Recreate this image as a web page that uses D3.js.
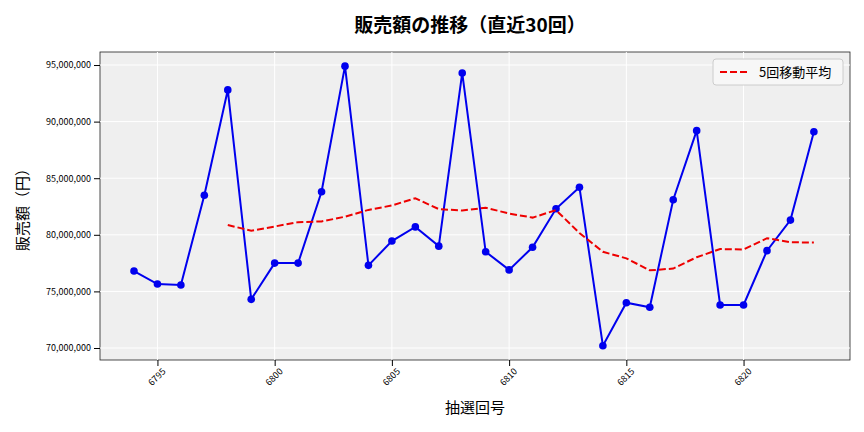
<!DOCTYPE html>
<html><head><meta charset="utf-8">
<script src="https://cdn.jsdelivr.net/npm/d3@7"></script>
<style>body{margin:0;background:#fff}text{font-family:"Noto Sans CJK JP","DejaVu Sans",sans-serif}</style>
</head><body><svg id="c" width="864" height="432"></svg>
<script>
// draw numbers and sales (yen)
var draws = d3.range(6794, 6824)
var sales = [76.8, 75.65, 75.57, 83.5, 92.8, 74.3, 77.5, 77.5, 83.8, 94.9,
  77.3, 79.45, 80.7, 79.0, 94.3, 78.5, 76.9, 78.9, 82.3, 84.2,
  70.2, 74.0, 73.6, 83.1, 89.2, 73.8, 73.8, 78.6, 81.3, 89.1].map(d => d * 1e6)
var xTicks = [6795, 6800, 6805, 6810, 6815, 6820]
var yTicks = [70e6, 75e6, 80e6, 85e6, 90e6, 95e6]

// 5-draw moving average
var avg = sales.map((v, i) => i < 4 ? null : d3.mean(sales.slice(i - 4, i + 1)))

var svg = d3.select('#c')
var L = 100, R = 850, T = 52, B = 360
var x = d3.scaleLinear().domain([6792.55, 6824.54]).range([L, R])
var y = d3.scaleLinear().domain([68.94e6, 96.15e6]).range([B, T])

svg.append('rect').attr('x', L).attr('y', T).attr('width', R - L).attr('height', B - T)
  .attr('fill', '#efefef').attr('stroke', '#222').attr('stroke-width', 0.8)

svg.selectAll('.gx').data(xTicks).enter().append('line')
  .attr('x1', d => x(d)).attr('x2', d => x(d)).attr('y1', T).attr('y2', B)
  .attr('stroke', '#fff').attr('stroke-width', 1)
svg.selectAll('.gy').data(yTicks).enter().append('line')
  .attr('x1', L).attr('x2', R).attr('y1', d => y(d)).attr('y2', d => y(d))
  .attr('stroke', '#fff').attr('stroke-width', 1)

var xa = svg.append('g').attr('transform', 'translate(0,' + B + ')')
  .call(d3.axisBottom(x).tickValues(xTicks).tickFormat(d3.format('d')).tickSizeOuter(0))
xa.select('.domain').remove()
xa.selectAll('text').attr('font-size', 9).attr('text-anchor', 'end')
  .attr('transform', 'rotate(-45)').attr('dx', '-0.3em').attr('dy', '0.6em')

var ya = svg.append('g').attr('transform', 'translate(' + L + ',0)')
  .call(d3.axisLeft(y).tickValues(yTicks).tickFormat(d3.format(',')).tickSizeOuter(0))
ya.select('.domain').remove()
ya.selectAll('text').attr('font-size', 9)

svg.append('path').datum(sales)
  .attr('fill', 'none').attr('stroke', '#0000ee').attr('stroke-width', 2)
  .attr('d', d3.line().x((d, i) => x(draws[i])).y(d => y(d)))
svg.selectAll('.pt').data(sales).enter().append('circle')
  .attr('cx', (d, i) => x(draws[i])).attr('cy', d => y(d)).attr('r', 3.8).attr('fill', '#0000ee')

svg.append('path').datum(avg)
  .attr('fill', 'none').attr('stroke', '#ee0000').attr('stroke-width', 2).attr('stroke-dasharray', '7,3')
  .attr('d', d3.line().defined(d => d != null).x((d, i) => x(draws[i])).y(d => y(d)))

svg.append('text').attr('x', 470).attr('y', 32).attr('text-anchor', 'middle')
  .attr('font-size', 19).attr('font-weight', 'bold').text('販売額の推移（直近30回）')
svg.append('text').attr('x', 475).attr('y', 413).attr('text-anchor', 'middle')
  .attr('font-size', 15).text('抽選回号')
svg.append('text').attr('transform', 'translate(28,206) rotate(-90)').attr('text-anchor', 'middle')
  .attr('font-size', 15).text('販売額（円）')

var lg = svg.append('g').attr('transform', 'translate(713,59)')
lg.append('rect').attr('width', 130).attr('height', 26).attr('rx', 3)
  .attr('fill', '#f7f7f7').attr('stroke', '#ccc')
lg.append('line').attr('x1', 7).attr('x2', 37).attr('y1', 13).attr('y2', 13)
  .attr('stroke', '#ee0000').attr('stroke-width', 2).attr('stroke-dasharray', '7,3')
lg.append('text').attr('x', 46).attr('y', 18).attr('font-size', 13).text('5回移動平均')
</script></body></html>
